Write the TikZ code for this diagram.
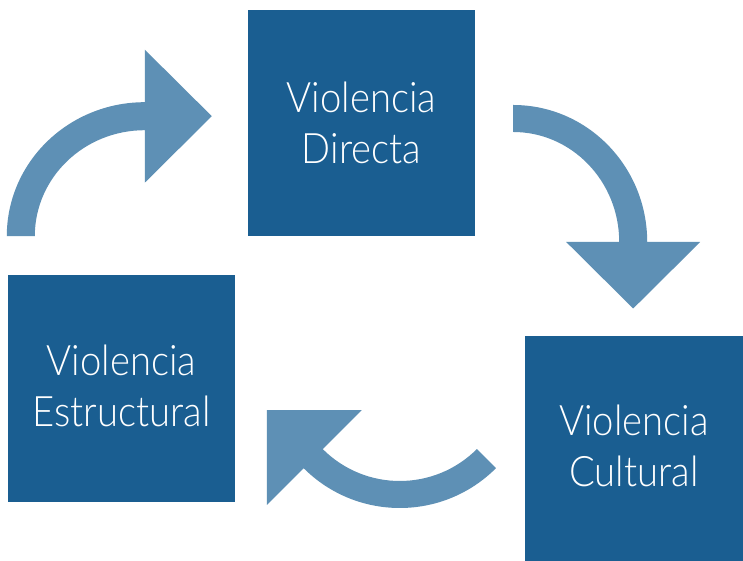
\documentclass[tikz,border=0pt]{standalone}
\usepackage{fontspec}
\setmainfont{Lato}[UprightFont=* Light, FakeStretch=0.91]
\usetikzlibrary{calc}
\definecolor{boxblue}{RGB}{26,94,145}
\definecolor{arrowblue}{RGB}{94,144,181}
\begin{document}
\begin{tikzpicture}[x=1pt,y=1pt,
  box/.style={fill=boxblue, draw=none, inner sep=0pt, text=white, align=center,
    font=\fontsize{42}{51}\selectfont},
  cyclearrow/.style={fill=arrowblue, draw=none}]
\fill[white] (0,0) rectangle (743,561);
\useasboundingbox (0,0) rectangle (743,561);

% the three forms of violence
\node[box, minimum width=227pt, minimum height=226pt] (directa) at (361.5,438) {Violencia\\Directa};
\node[box, minimum width=227pt, minimum height=227pt, text depth=6pt] (estructural) at (121.5,172.5) {Violencia\\Estructural};
\node[box, minimum width=218pt, minimum height=225pt, text depth=5pt] (cultural) at (634,112.5) {Violencia\\Cultural};

% centres of the curved arrows
\coordinate (c1) at ($(directa.south west)+(-103,0)$);
\coordinate (c2) at ($(directa.east)+(38,-119)$);
\coordinate (c3) at ($(cultural.west)+(-125,76.5)$);

% Estructural -> Directa
\fill[cyclearrow] ($(c1)+(-138,0)$) arc[start angle=180,end angle=90,x radius=138,y radius=134]
  -- ++(0,52.5) -- ($(c1)+(67,120)$) -- ($(c1)+(0,53.5)$) -- ($(c1)+(0,106)$)
  arc[start angle=90,end angle=180,x radius=110,y radius=106] -- cycle;

% Directa -> Cultural
\fill[cyclearrow] ($(c2)+(0,137)$) arc[start angle=90,end angle=0,x radius=134,y radius=137]
  -- ($(c2)+(187,0)$) -- ($(c2)+(120,-66.5)$) -- ($(c2)+(53,0)$) -- ($(c2)+(106,0)$)
  arc[start angle=0,end angle=90,x radius=106,y radius=110] -- cycle;

% Cultural -> Estructural
\fill[cyclearrow] ($(c3)+(-45:136pt)$) arc[start angle=-45,end angle=-135,radius=136]
  -- ($(c3)+(-135:188pt)$) -- ($(c3)+(-135:121pt)+(135:67pt)$) -- ($(c3)+(-135:54pt)$)
  -- ($(c3)+(-135:109pt)$) arc[start angle=-135,end angle=-45,radius=109] -- cycle;
\end{tikzpicture}
\end{document}
